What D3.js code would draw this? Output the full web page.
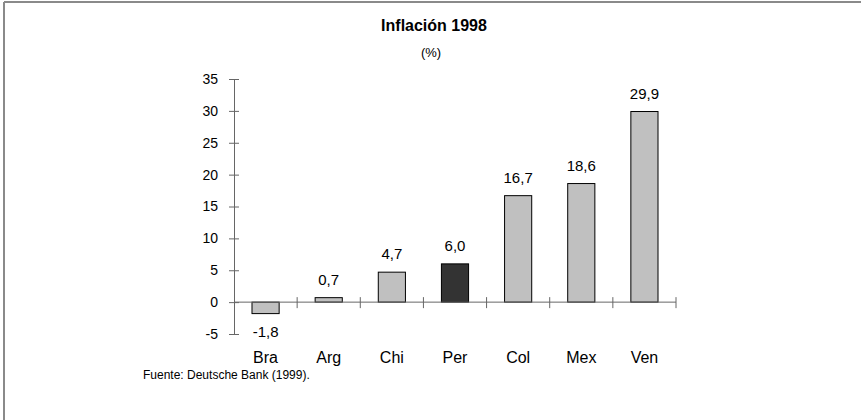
<!DOCTYPE html>
<html>
<head>
<meta charset="utf-8">
<script src="https://cdn.jsdelivr.net/npm/d3@7"></script>
<style>
  body { margin: 0; background: #fff; }
  text { font-family: "Liberation Sans", Arial, sans-serif; fill: #000; }
</style>
</head>
<body>
<svg width="861" height="420"></svg>
<script>
var countries = ['Bra', 'Arg', 'Chi', 'Per', 'Col', 'Mex', 'Ven'],
    inflation = [-1.8, 0.7, 4.7, 6.0, 16.7, 18.6, 29.9],
    yTicks = [-5, 0, 5, 10, 15, 20, 25, 30, 35],
    highlight = 'Per';

var svg = d3.select('svg'),
    plotLeft = 234,
    plotRight = 676,
    plotTop = 79,
    plotBottom = 334;

// frame (only top and left edges are visible in the picture)
svg.append('line').attr('x1', 4).attr('x2', 861).attr('y1', 2).attr('y2', 2)
    .attr('stroke', '#8a8a8a').attr('stroke-width', 2);
svg.append('line').attr('x1', 4).attr('x2', 4).attr('y1', 2).attr('y2', 420)
    .attr('stroke', '#8a8a8a').attr('stroke-width', 2);

var x = d3.scaleBand().domain(countries).range([plotLeft, plotRight]).paddingInner(0.57).paddingOuter(0.285),
    y = d3.scaleLinear().domain([-5, 35]).range([plotBottom, plotTop]),
    xEdge = d3.scaleLinear().domain([0, countries.length]).range([plotLeft, plotRight]);

// title
svg.append('text').attr('x', 434).attr('y', 31).attr('text-anchor', 'middle')
    .style('font-size', '16px').style('font-weight', 'bold').text('Inflación 1998');
svg.append('text').attr('x', 431).attr('y', 57).attr('text-anchor', 'middle')
    .style('font-size', '13px').text('(%)');

// y axis
var yAxis = d3.axisLeft(y).tickValues(yTicks).tickSize(0).tickPadding(16)
    .tickFormat(function(d) { return String(d); });
var gy = svg.append('g').attr('transform', 'translate(' + plotLeft + ',0)').call(yAxis);
gy.select('.domain').attr('stroke', '#666');
gy.selectAll('.tick text').style('font-size', '14px').attr('fill', '#000')
    .style('font-family', '"Liberation Sans", Arial, sans-serif');
gy.selectAll('.tick').append('line').attr('x1', -5).attr('x2', 5).attr('stroke', '#666');

// bars
svg.selectAll('rect.bar')
    .data(countries)
    .enter().append('rect')
    .attr('class', 'bar')
    .attr('x', function(d) { return x(d); })
    .attr('width', x.bandwidth())
    .attr('y', function(d, i) { return y(Math.max(0, inflation[i])); })
    .attr('height', function(d, i) { return Math.abs(y(inflation[i]) - y(0)); })
    .attr('fill', function(d) { return d === highlight ? '#333333' : '#c0c0c0'; })
    .attr('stroke', '#000')
    .attr('stroke-width', 1);

// x axis line at zero with crossing ticks between categories
svg.append('line').attr('x1', plotLeft).attr('x2', plotRight).attr('y1', y(0)).attr('y2', y(0))
    .attr('stroke', '#666');
svg.selectAll('line.xtick')
    .data(d3.range(1, countries.length + 1))
    .enter().append('line')
    .attr('class', 'xtick')
    .attr('x1', function(d) { return xEdge(d); })
    .attr('x2', function(d) { return xEdge(d); })
    .attr('y1', y(0) - 5).attr('y2', y(0) + 6)
    .attr('stroke', '#666');

// value labels
var fmt = function(v) { return v.toFixed(1).replace('.', ','); };
svg.selectAll('text.val')
    .data(countries)
    .enter().append('text')
    .attr('class', 'val')
    .attr('x', function(d) { return x(d) + x.bandwidth() / 2; })
    .attr('y', function(d, i) { return inflation[i] < 0 ? y(inflation[i]) + 23 : y(inflation[i]) - 13; })
    .attr('text-anchor', 'middle')
    .style('font-size', '15px')
    .text(function(d, i) { return fmt(inflation[i]); });

// category labels
svg.selectAll('text.cat')
    .data(countries)
    .enter().append('text')
    .attr('class', 'cat')
    .attr('x', function(d) { return x(d) + x.bandwidth() / 2; })
    .attr('y', 363)
    .attr('text-anchor', 'middle')
    .style('font-size', '16px')
    .text(function(d) { return d; });

// source
svg.append('text').attr('x', 143).attr('y', 379)
    .style('font-size', '12px').text('Fuente: Deutsche Bank (1999).');
</script>
</body>
</html>
